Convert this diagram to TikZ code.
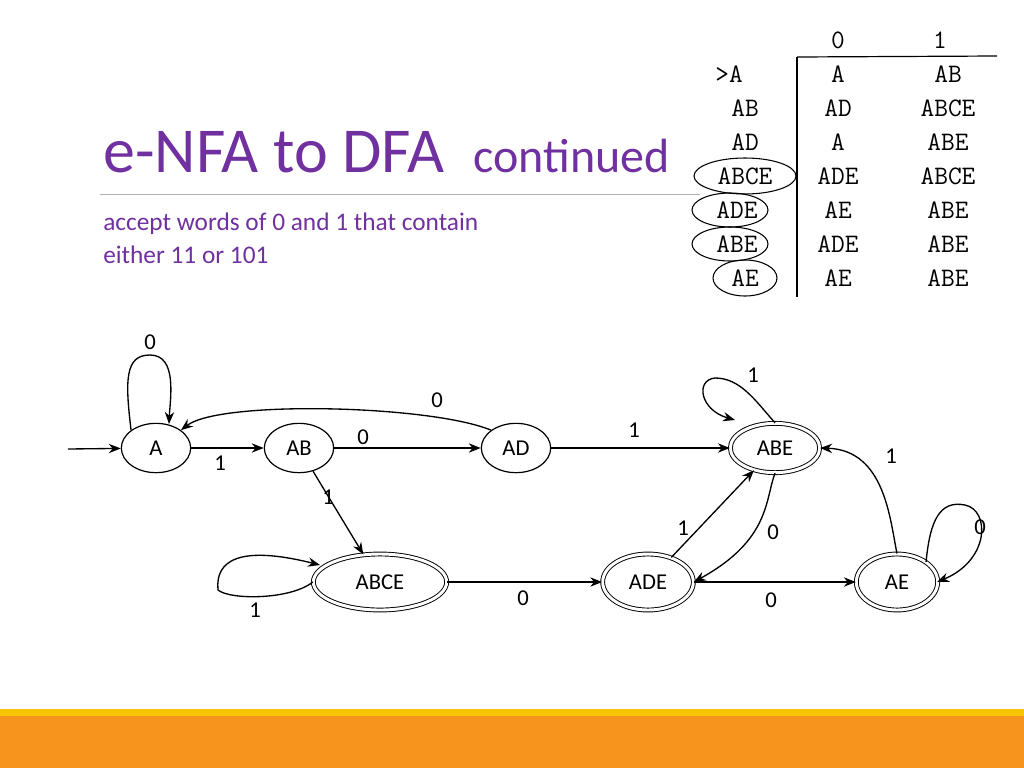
\documentclass[tikz,border=0pt]{standalone}
\usepackage{fontspec}
\setmainfont{Carlito}
\usetikzlibrary{arrows.meta,shapes.geometric}
\definecolor{titlepurple}{RGB}{112,48,160}
\definecolor{barorange}{RGB}{247,148,29}
\definecolor{baryellow}{RGB}{246,196,0}
\tikzset{
  state/.style={draw,ellipse,minimum width=52pt,minimum height=37pt,inner sep=0.75pt,line width=0.9pt,font=\fontsize{17}{17}\selectfont},
  accepting/.style={double,double distance=2.2pt,line width=0.7pt},
  trans/.style={-{Stealth[length=9pt,width=7pt]},line width=1pt},
  lbl/.style={inner sep=0.75pt,font=\fontsize{17}{17}\selectfont},
  tab/.style={inner sep=0.75pt,font=\ttfamily\fontsize{20}{20}\selectfont}
}
\begin{document}
\begin{tikzpicture}[x=0.75pt,y=0.75pt,yscale=-1,xscale=1]
\useasboundingbox (0,0) rectangle (1024,768);

% Bottom bars
\fill [baryellow] (0,709) rectangle (1024,716);
\fill [barorange] (0,716) rectangle (1024,768);

% Title
\node (title) [anchor=base west,inner sep=0,text=titlepurple] at (103,172) {\fontsize{48}{48}\selectfont e-NFA to DFA\ \ \fontsize{36}{36}\selectfont continued};
\draw [gray!60,line width=0.6pt] (100,194) -- (700,194);
\node (sub1) [anchor=west,inner sep=0,text=titlepurple,font=\fontsize{19}{19}\selectfont] at (103,224) {accept words of 0 and 1 that contain};
\node (sub2) [anchor=west,inner sep=0,text=titlepurple,font=\fontsize{19}{19}\selectfont] at (103,255) {either 11 or 101};

% Table
\node (h0) [tab] at (838,40) {0};
\node (h1) [tab] at (940,40) {1};
\draw [line width=0.9pt] (797,57) -- (997,56);
\draw [line width=0.9pt] (797,57) -- (797,297);
\foreach \y/\a/\ax/\b/\c [count=\i] in {74/{>A}/729/A/AB, 108/AB/745/AD/ABCE, 142/AD/745/A/ABE, 176/ABCE/745/ADE/ABCE, 210/ADE/737/AE/ABE, 244/ABE/737/ADE/ABE, 278/AE/745/AE/ABE}{
  \node (r\i a) [tab] at (\ax,\y) {\a};
  \node (r\i b) [tab] at (838,\y) {\b};
  \node (r\i c) [tab] at (948,\y) {\c};
}
\draw [line width=0.8pt] (745,176) ellipse (51 and 18);
\draw [line width=0.8pt] (730,210) ellipse (38 and 17);
\draw [line width=0.8pt] (730,244) ellipse (38 and 17);
\draw [line width=0.8pt] (745,278) ellipse (32 and 18);

% States
\node (A) [state] at (156,448) {A};
\node (AB) [state] at (299,448) {AB};
\node (AD) [state] at (516,448) {AD};
\node (ABE) [state,accepting,minimum width=67pt,minimum height=37pt] at (775,448) {ABE};
\node (ABCE) [state,accepting,minimum width=100pt,minimum height=42pt] at (380,582) {ABCE};
\node (ADE) [state,accepting,minimum width=68pt,minimum height=42pt] at (648,582) {ADE};
\node (AE) [state,accepting,minimum width=61pt,minimum height=42pt] at (897,582) {AE};
\coordinate (start) at (68,449);

% Transitions
\draw [trans] (start) -- (A);
\draw [trans] (A) -- (AB);
\draw [trans] (AB) -- (AD);
\draw [trans] (AD.north west) .. controls (430,405) and (220,400) .. (A.north east);
\draw [trans] (AD) -- (ABE);
\draw [trans] (AB) -- (ABCE);
\draw [trans] (ABCE) -- (ADE);
\draw [trans] (ADE) -- (ABE);
\draw [trans] (ABE.south) .. controls (765,500) and (770,540) .. (ADE.east);
\draw [trans] (ADE) -- (AE);
\draw [trans] (AE.north) .. controls (890,520) and (885,450) .. (ABE.east);
\draw [trans] (A.north west) .. controls (125,380) and (125,355) .. (150,355) .. controls (178,355) and (170,400) .. (169,424);
\draw [trans] (ABE.north) .. controls (755,400) and (740,378) .. (715,378) .. controls (695,380) and (700,410) .. (735,420);
\draw [trans] (AE.north east) .. controls (930,520) and (940,500) .. (965,505) .. controls (990,510) and (990,560) .. (937,582);
\draw [trans] (ABCE.west) .. controls (290,600) and (230,600) .. (218,590) .. controls (215,560) and (240,545) .. (320,565);

% Text Node
\node (lA) [lbl] at (150,342) {0};
\node (l1) [lbl] at (220,463) {1};
\node (l2) [lbl] at (363,437) {0};
\node (l3) [lbl] at (437,400) {0};
\node (l4) [lbl] at (634,430) {1};
\node (l5) [lbl] at (328,497) {1};
\node (l6) [lbl] at (523,598) {0};
\node (l7) [lbl] at (683,528) {1};
\node (l8) [lbl] at (773,532) {0};
\node (l9) [lbl] at (771,600) {0};
\node (l10) [lbl] at (891,456) {1};
\node (l11) [lbl] at (753,375) {1};
\node (l12) [lbl] at (980,527) {0};
\node (l13) [lbl] at (255,610) {1};
\end{tikzpicture}
\end{document}
